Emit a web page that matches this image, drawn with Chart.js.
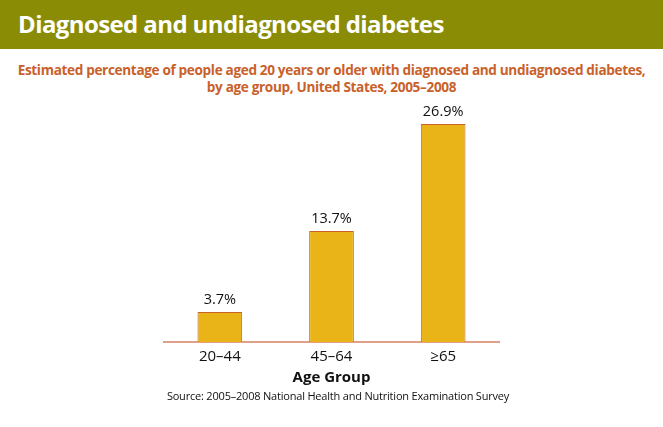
<!DOCTYPE html>
<html><head><meta charset="utf-8">
<script src="https://cdn.jsdelivr.net/npm/chart.js@4"></script>
<style>
html,body{margin:0;padding:0;background:#fff;width:663px;height:427px;overflow:hidden;font-family:"Open Sans",sans-serif}
#hdr{position:absolute;left:0;top:0;width:663px;height:49px;background:#8A8C05;}
#hdr span{position:absolute;left:18px;top:7px;color:#fff;font-weight:bold;font-size:24px;letter-spacing:-0.6px;white-space:nowrap}
#sub{position:absolute;left:0;top:61px;width:663px;text-align:center;color:#C9612B;font-weight:bold;font-size:13.6px;line-height:17px;letter-spacing:-0.35px}
#src{position:absolute;left:0;top:388px;width:676px;text-align:center;color:#111;font-size:11px;letter-spacing:-0.2px}
#wrap{position:absolute;left:0;top:0;width:663px;height:427px}
</style></head>
<body>
<div id="hdr"><span>Diagnosed and undiagnosed diabetes</span></div>
<div id="sub">Estimated percentage of people aged 20 years or older with diagnosed and undiagnosed diabetes,<br>by age group, United States, 2005–2008</div>
<div id="wrap"><canvas id="c" width="663" height="427"></canvas></div>
<div id="src">Source: 2005–2008 National Health and Nutrition Examination Survey</div>
<script>
const categories = ["20–44", "45–64", "≥65"];
const values = [3.7, 13.7, 26.9];
const valueLabels = ["3.7%", "13.7%", "26.9%"];
const axisTitle = "Age Group";

const labelPlugin = {
  id: 'barLabels',
  afterDatasetsDraw(chart) {
    const ctx = chart.ctx;
    const meta = chart.getDatasetMeta(0);
    ctx.save();
    ctx.font = '14.5px "Open Sans", sans-serif';
    ctx.fillStyle = '#111';
    ctx.textAlign = 'center';
    ctx.textBaseline = 'bottom';
    meta.data.forEach((bar, i) => {
      ctx.fillText(valueLabels[i], bar.x, bar.y - 5);
    });
    ctx.restore();
  }
};

new Chart(document.getElementById('c'), {
  type: 'bar',
  data: {
    labels: categories,
    datasets: [{
      data: values,
      backgroundColor: '#E8B417',
      borderColor: '#C9622A',
      borderWidth: 1,
      barPercentage: 0.4,
      categoryPercentage: 1.0
    }]
  },
  options: {
    responsive: false,
    animation: false,
    devicePixelRatio: 1,
    layout: { padding: { left: 164, right: 164, top: 99, bottom: 40 } },
    plugins: { legend: { display: false }, tooltip: { enabled: false } },
    scales: {
      x: {
        grid: { display: false },
        border: { display: true, color: '#E0A08A', width: 2 },
        ticks: { color: '#111', font: { family: 'Open Sans', size: 15 }, padding: -2 },
        title: { display: true, text: axisTitle, color: '#111', font: { family: 'Open Sans', size: 15, weight: 'bold' }, padding: { top: 5, bottom: 0 } }
      },
      y: { display: false, min: 0, max: 30 }
    }
  },
  plugins: [labelPlugin]
});
</script>
</body></html>
